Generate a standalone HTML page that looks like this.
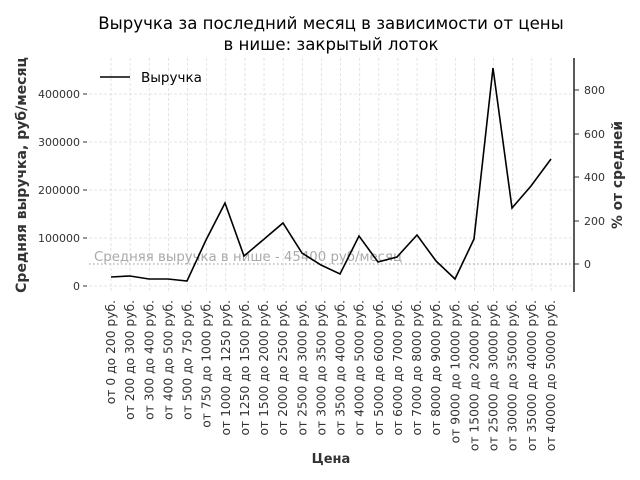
<!DOCTYPE html>
<html><head><meta charset="utf-8"><style>body{margin:0;background:#fff}svg{display:block}</style></head><body>
<svg width="640" height="480" xmlns="http://www.w3.org/2000/svg" font-family="'DejaVu Sans','Liberation Sans',sans-serif">
<text x="331" y="29" font-size="16.6" text-anchor="middle">Выручка за последний месяц в зависимости от цены</text>
<text x="331" y="50" font-size="16.6" text-anchor="middle">в нише: закрытый лоток</text>
<g stroke="#ddd" stroke-width="0.8" stroke-dasharray="3,2">
<line x1="89" x2="574" y1="94" y2="94"/><line x1="89" x2="574" y1="142" y2="142"/><line x1="89" x2="574" y1="190" y2="190"/><line x1="89" x2="574" y1="238" y2="238"/><line x1="89" x2="574" y1="286" y2="286"/>
</g>
<g id="vg" stroke="#ddd" stroke-width="0.8" stroke-dasharray="3,2"></g>
<line x1="89" x2="574" y1="264" y2="264" stroke="#aaa" stroke-width="1.3" stroke-dasharray="1.5,2.5"/>
<text x="94" y="261" font-size="13.3" fill="#aaa">Средняя выручка в нише - 45400 руб/месяц</text>
<polyline fill="none" stroke="#000" stroke-width="1.6" points="111,277 130,276 149,279 168,279 187,281 206,240 225,203 244,256 263,240 283,223 302,253 321,265 340,274 359,236 378,262 397,257 417,235 436,261 455,279 474,239 493,68 512,208 531,186 551,159"/>
<line x1="574" x2="574" y1="58" y2="292" stroke="#000" stroke-width="1.3"/>
<g font-size="11" fill="#333">
<g text-anchor="end"><text x="80" y="98">400000</text><text x="80" y="146">300000</text><text x="80" y="194">200000</text><text x="80" y="242">100000</text><text x="80" y="290">0</text></g>
<g stroke="#333"><line x1="83" x2="87" y1="94" y2="94"/><line x1="83" x2="87" y1="142" y2="142"/><line x1="83" x2="87" y1="190" y2="190"/><line x1="83" x2="87" y1="238" y2="238"/><line x1="83" x2="87" y1="286" y2="286"/>
<line x1="574" x2="579" y1="90" y2="90"/><line x1="574" x2="579" y1="134" y2="134"/><line x1="574" x2="579" y1="177" y2="177"/><line x1="574" x2="579" y1="221" y2="221"/><line x1="574" x2="579" y1="264" y2="264"/></g>
<text x="584" y="94">800</text><text x="584" y="138">600</text><text x="584" y="181">400</text><text x="584" y="225">200</text><text x="584" y="268">0</text>
</g>
<g id="xl" font-size="12.3" fill="#333" text-anchor="end"></g>
<text x="331" y="463" font-size="13" font-weight="bold" text-anchor="middle" fill="#333">Цена</text>
<text transform="translate(26,175) rotate(-90)" font-size="14" font-weight="bold" text-anchor="middle" fill="#333">Средняя выручка, руб/месяц</text>
<text transform="translate(622,175) rotate(-90)" font-size="13.8" font-weight="bold" text-anchor="middle" fill="#333">% от средней</text>
<line x1="100" x2="130" y1="77" y2="77" stroke="#000" stroke-width="1.6"/>
<text x="141" y="82" font-size="13.5">Выручка</text>
<script>
var L=["от 0 до 200 руб.","от 200 до 300 руб.","от 300 до 400 руб.","от 400 до 500 руб.","от 500 до 750 руб.","от 750 до 1000 руб.","от 1000 до 1250 руб.","от 1250 до 1500 руб.","от 1500 до 2000 руб.","от 2000 до 2500 руб.","от 2500 до 3000 руб.","от 3000 до 3500 руб.","от 3500 до 4000 руб.","от 4000 до 5000 руб.","от 5000 до 6000 руб.","от 6000 до 7000 руб.","от 7000 до 8000 руб.","от 8000 до 9000 руб.","от 9000 до 10000 руб.","от 15000 до 20000 руб.","от 25000 до 30000 руб.","от 30000 до 35000 руб.","от 35000 до 40000 руб.","от 40000 до 50000 руб."];
var ns="http://www.w3.org/2000/svg",vg=document.getElementById('vg'),xl=document.getElementById('xl');
L.forEach(function(t,i){var x=111+i*440/23;
var l=document.createElementNS(ns,'line');l.setAttribute('x1',x);l.setAttribute('x2',x);l.setAttribute('y1',58);l.setAttribute('y2',292);vg.appendChild(l);
var e=document.createElementNS(ns,'text');e.setAttribute('transform','translate('+(x+4)+',300) rotate(-90)');e.textContent=t;xl.appendChild(e);});
</script>
</svg>
</body></html>
